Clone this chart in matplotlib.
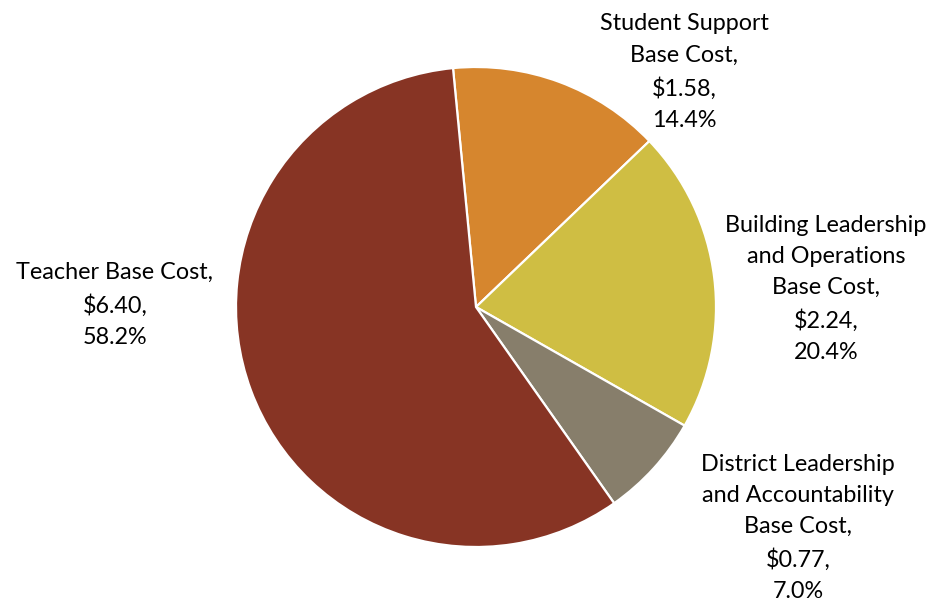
import matplotlib.pyplot as plt

# slice order follows the chart: clockwise from just left of 12 o'clock
categories = ['Student Support\nBase Cost', 'Building Leadership\nand Operations\nBase Cost',
              'District Leadership\nand Accountability\nBase Cost', 'Teacher Base Cost']
values = [1.58, 2.24, 0.77, 6.40]
percents = ['14.4%', '20.4%', '7.0%', '58.2%']
colors = ['#D6862E', '#CFBE43', '#877E6B', '#873424']

W, H = 933, 603
fig = plt.figure(figsize=(W / 100, H / 100), dpi=100)

# pie centre at (476, 307) px from top-left, radius 240 px
cx, cy, r = 476, 307, 240
ax = fig.add_axes([(cx - r) / W, (H - cy - r) / H, 2 * r / W, 2 * r / H])
ax.pie(values, colors=colors, startangle=95.5, counterclock=False,
       wedgeprops=dict(edgecolor='white', linewidth=1.6))
ax.set_xlim(-1, 1)
ax.set_ylim(-1, 1)
ax.set_aspect('equal')
ax.axis('off')

# label block centres (px from top-left)
label_pos = [(684, 72), (826, 289), (798, 528), (115, 305)]

for cat, v, p, (lx, ly) in zip(categories, values, percents, label_pos):
    txt = cat + ',\n$' + format(v, '.2f') + ',\n' + p
    fig.text(lx / W, 1 - ly / H, txt.replace('$', r'\$'), ha='center', va='center',
             multialignment='center', fontsize=16.8, family='Lato',
             color='black', linespacing=1.6)

fig.savefig('out.png', dpi=100)
